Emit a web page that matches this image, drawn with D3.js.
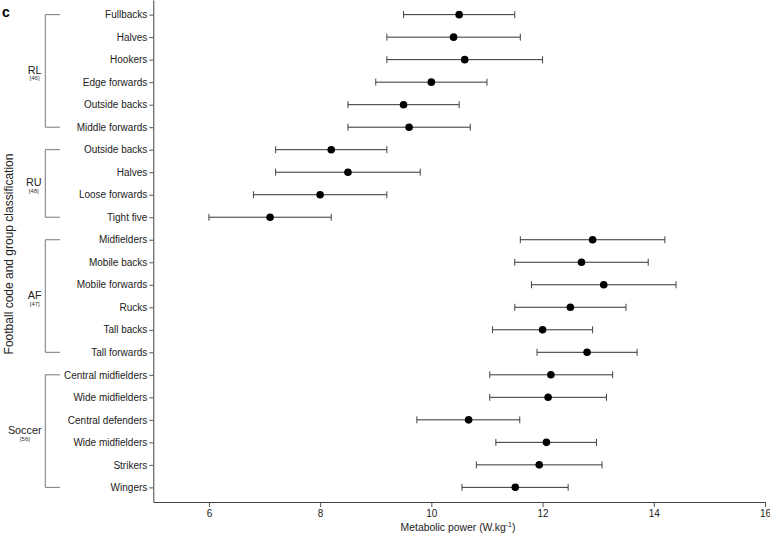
<!DOCTYPE html>
<html>
<head>
<meta charset="utf-8">
<script src="https://cdn.jsdelivr.net/npm/d3@7"></script>
<style>
  html, body { margin: 0; padding: 0; background: #fff; }
  svg { display: block; font-family: "Liberation Sans", Arial, sans-serif; }
</style>
</head>
<body>
<svg id="chart" width="770" height="540"></svg>
<script>
const categories = ["Fullbacks","Halves","Hookers","Edge forwards","Outside backs","Middle forwards",
  "Outside backs","Halves","Loose forwards","Tight five",
  "Midfielders","Mobile backs","Mobile forwards","Rucks","Tall backs","Tall forwards",
  "Central midfielders","Wide midfielders","Central defenders","Wide midfielders","Strikers","Wingers"];
const means = [10.5,10.4,10.6,10.0,9.5,9.6, 8.2,8.5,8.0,7.1, 12.9,12.7,13.1,12.5,12.0,12.8, 12.15,12.1,10.67,12.07,11.94,11.51];
const lower = [9.5,9.2,9.2,9.0,8.5,8.5, 7.2,7.2,6.8,6.0, 11.6,11.5,11.8,11.5,11.1,11.9, 11.05,11.05,9.74,11.16,10.81,10.55];
const upper = [11.5,11.6,12.0,11.0,10.5,10.7, 9.2,9.8,9.2,8.2, 14.2,13.9,14.4,13.5,12.9,13.7, 13.26,13.15,11.59,12.97,13.07,12.46];
const groupNames = ["RL","RU","AF","Soccer"];
const groupRefs = ["[46]","[48]","[47]","[56]"];
const groupStart = [0,6,10,16];
const groupEnd = [5,9,15,21];
const xTicks = [6,8,10,12,14,16];

const svg = d3.select("#chart");
const plotLeft = 153.3, plotRight = 765, plotTop = 0, plotBottom = 502;

const x = d3.scaleLinear().domain([5,16]).range([plotLeft, plotRight]);
const y = d3.scalePoint().domain(d3.range(categories.length)).range([plotTop, plotBottom]).padding(0.65);

// X axis
const xAxis = svg.append("g").attr("transform", `translate(0,${plotBottom})`)
  .call(d3.axisBottom(x).tickValues(xTicks).tickSize(5).tickSizeOuter(0).tickPadding(3));
xAxis.select(".domain").attr("stroke", "#444");
xAxis.selectAll(".tick line").attr("stroke", "#555");
xAxis.selectAll(".tick text").attr("font-size", "10px").attr("fill", "#222")
  .attr("font-family", "Liberation Sans, Arial, sans-serif");

// Y axis
const yAxis = svg.append("g").attr("transform", `translate(${plotLeft},0)`)
  .call(d3.axisLeft(y).tickSize(4).tickSizeOuter(0).tickPadding(2).tickFormat(i => categories[i]));
yAxis.select(".domain").attr("stroke", "#444");
yAxis.selectAll(".tick line").attr("stroke", "#555");
yAxis.selectAll(".tick text").attr("font-size", "10px").attr("fill", "#222")
  .attr("font-family", "Liberation Sans, Arial, sans-serif");

// Error bars
const rows = svg.append("g").selectAll("g").data(d3.range(categories.length)).join("g");
rows.append("line")
  .attr("x1", i => x(lower[i])).attr("x2", i => x(upper[i]))
  .attr("y1", i => y(i)).attr("y2", i => y(i))
  .attr("stroke", "#333").attr("stroke-width", 1);
rows.append("line")
  .attr("x1", i => x(lower[i])).attr("x2", i => x(lower[i]))
  .attr("y1", i => y(i) - 3.5).attr("y2", i => y(i) + 3.5)
  .attr("stroke", "#444").attr("stroke-width", 1);
rows.append("line")
  .attr("x1", i => x(upper[i])).attr("x2", i => x(upper[i]))
  .attr("y1", i => y(i) - 3.5).attr("y2", i => y(i) + 3.5)
  .attr("stroke", "#444").attr("stroke-width", 1);
rows.append("circle")
  .attr("cx", i => x(means[i])).attr("cy", i => y(i)).attr("r", 3.8)
  .attr("fill", "#000");

// Group brackets
const bx = 45.3, bx2 = 60;
const gb = svg.append("g").selectAll("g").data(d3.range(groupNames.length)).join("g");
gb.append("path")
  .attr("d", g => `M${bx2},${y(groupStart[g])}H${bx}V${y(groupEnd[g])}H${bx2}`)
  .attr("fill", "none").attr("stroke", "#777").attr("stroke-width", 1);
gb.each(function(g) {
  const sel = d3.select(this);
  const mid = (y(groupStart[g]) + y(groupEnd[g])) / 2;
  const t = sel.append("text").attr("x", 41.5).attr("y", mid + 3)
    .attr("text-anchor", "end").attr("font-size", "10.8px").attr("fill", "#222")
    .text(groupNames[g]);
  const bb = t.node().getBBox();
  sel.append("text").attr("x", bb.x + bb.width / 2).attr("y", mid + 9.5)
    .attr("text-anchor", "middle").attr("font-size", "6px").attr("fill", "#333")
    .text(groupRefs[g]);
});

// Axis titles
svg.append("text")
  .attr("transform", `translate(13,${(plotTop + plotBottom) / 2 + 3}) rotate(-90)`)
  .attr("text-anchor", "middle").attr("font-size", "12px").attr("fill", "#222")
  .text("Football code and group classification");

const xt = svg.append("text").attr("x", 458).attr("y", 531)
  .attr("text-anchor", "middle").attr("font-size", "10.4px").attr("fill", "#222");
xt.append("tspan").text("Metabolic power (W.kg");
xt.append("tspan").attr("dy", -4).attr("font-size", "7px").text("-1");
xt.append("tspan").attr("dy", 4).text(")");

// Panel label
svg.append("text").attr("x", 2).attr("y", 17).attr("font-size", "14px")
  .attr("font-weight", "bold").attr("fill", "#000").text("c");
</script>
</body>
</html>
